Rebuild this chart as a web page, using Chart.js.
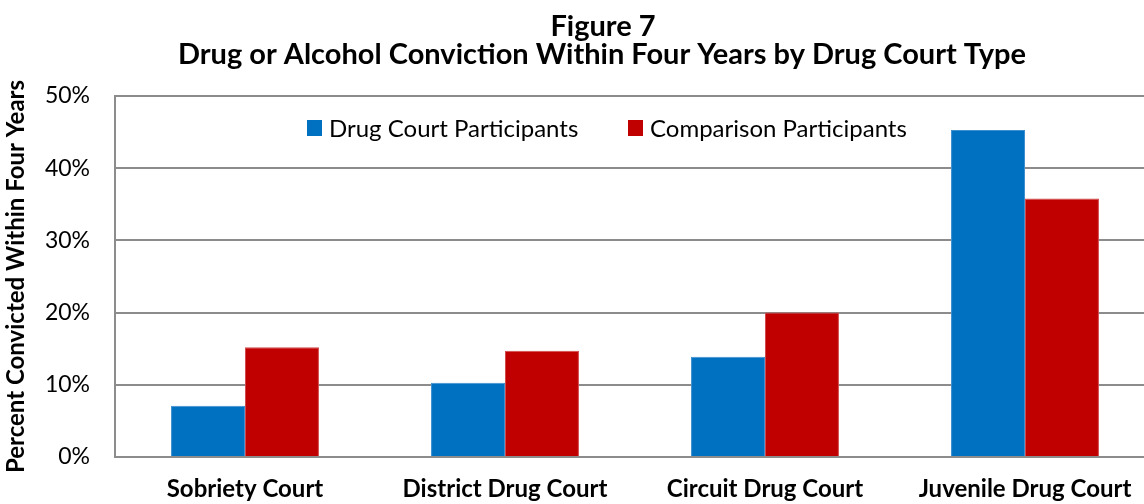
<!DOCTYPE html>
<html>
<head>
<meta charset="utf-8">
<script src="https://cdn.jsdelivr.net/npm/chart.js@4"></script>
<style>
  html, body { margin: 0; padding: 0; background: #fff; overflow: hidden; }
  #wrap { width: 1144px; height: 504px; overflow: hidden; }
</style>
</head>
<body>
<div id="wrap"><canvas id="courtChart" width="1160" height="504"></canvas></div>
<script>
// Data
const titleLines = ['Figure 7', 'Drug or Alcohol Conviction Within Four Years by Drug Court Type'];
const yAxisTitle = 'Percent Convicted Within Four Years';
const courtTypes = ['Sobriety Court', 'District Drug Court', 'Circuit Drug Court', 'Juvenile Drug Court'];
const seriesNames = ['Drug Court Participants', 'Comparison Participants'];
const drugCourtPct = [7.1, 10.3, 13.9, 45.3];
const comparisonPct = [15.2, 14.7, 20.0, 35.8];
const yTicks = [0, 10, 20, 30, 40, 50];

const FONT = 'Lato, "Open Sans", sans-serif';
const GRID = '#8c8c8c';

// Title + legend drawn by hand so they sit where the report puts them
const decorations = {
    id: 'decorations',
    afterDraw(chart) {
        const ctx = chart.ctx;
        ctx.save();
        ctx.fillStyle = '#000';
        ctx.textAlign = 'center';
        ctx.textBaseline = 'alphabetic';
        ctx.font = 'bold 29px ' + FONT;
        ctx.fillText(titleLines[0], 603, 36);
        ctx.fillText(titleLines[1], 602, 64);

        // legend inside the plot
        ctx.font = '24px ' + FONT;
        ctx.textAlign = 'left';
        ctx.textBaseline = 'middle';
        const legendX = [307, 628];
        chart.data.datasets.forEach((ds, i) => {
            ctx.fillStyle = ds.backgroundColor;
            ctx.fillRect(legendX[i], 120, 15, 16);
            ctx.fillStyle = '#000';
            ctx.fillText(ds.label, legendX[i] + 22, 129);
        });
        ctx.restore();
    }
};

const ctx = document.getElementById('courtChart').getContext('2d');
new Chart(ctx, {
    type: 'bar',
    data: {
        labels: courtTypes,
        datasets: [
            {
                label: seriesNames[0],
                data: drugCourtPct,
                backgroundColor: '#0070C0',
                borderColor: '#3d8fd0',
                borderWidth: 1
            },
            {
                label: seriesNames[1],
                data: comparisonPct,
                backgroundColor: '#C00000',
                borderColor: '#d24a4a',
                borderWidth: 1
            }
        ]
    },
    options: {
        responsive: false,
        animation: false,
        layout: { padding: { top: 96, right: 5, left: 0, bottom: 0 } },
        datasets: {
            bar: { categoryPercentage: 0.569, barPercentage: 1.0 }
        },
        plugins: {
            legend: { display: false },
            title: { display: false },
            tooltip: { enabled: false }
        },
        scales: {
            x: {
                grid: { display: false },
                border: { display: false },
                ticks: {
                    color: '#000',
                    font: { family: FONT, size: 24, weight: 'bold' },
                    padding: 10,
                    maxRotation: 0,
                    autoSkip: false
                },
                afterFit(scale) { scale.height = 47; }
            },
            y: {
                min: 0,
                max: 50,
                afterBuildTicks(scale) {
                    scale.ticks = yTicks.map(v => ({ value: v }));
                },
                grid: { color: GRID, lineWidth: 2, drawTicks: false },
                border: { display: true, color: GRID, width: 2 },
                ticks: {
                    color: '#000',
                    font: { family: FONT, size: 23 },
                    padding: 25,
                    callback: v => v + '%'
                },
                title: {
                    display: true,
                    text: yAxisTitle,
                    color: '#000',
                    font: { family: FONT, size: 24, weight: 'bold' },
                    padding: { top: 2, bottom: 0 }
                },
                afterFit(scale) { scale.width = 115; }
            }
        }
    },
    plugins: [decorations]
});
</script>
</body>
</html>
